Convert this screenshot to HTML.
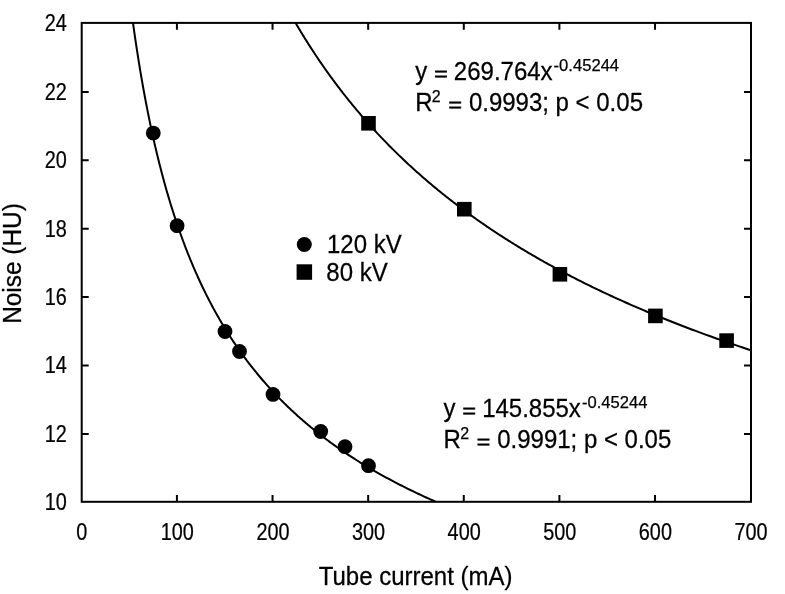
<!DOCTYPE html><html><head><meta charset="utf-8"><style>html,body{margin:0;padding:0;background:#fff;}svg{display:block;}text{font-family:"Liberation Sans",Arial,sans-serif;fill:#000;stroke:#000;stroke-width:0.25px;}</style></head><body>
<svg width="785" height="594" viewBox="0 0 785 594">
<defs><clipPath id="pc"><rect x="81.70" y="22.90" width="669.30" height="478.90"/></clipPath></defs>
<g clip-path="url(#pc)" fill="none" stroke="#000" stroke-width="2.00" stroke-linejoin="round">
<polyline points="119.95,-93.91 120.17,-91.41 120.40,-88.91 120.63,-86.42 120.86,-83.94 121.09,-81.47 121.32,-79.00 121.56,-76.54 121.79,-74.09 122.03,-71.64 122.27,-69.20 122.51,-66.76 122.75,-64.33 122.99,-61.91 123.23,-59.50 123.48,-57.09 123.73,-54.69 123.98,-52.29 124.23,-49.90 124.48,-47.52 124.73,-45.14 124.98,-42.77 125.24,-40.40 125.50,-38.05 125.76,-35.69 126.02,-33.35 126.28,-31.01 126.54,-28.68 126.81,-26.35 127.07,-24.03 127.34,-21.72 127.61,-19.41 127.88,-17.10 128.16,-14.81 128.43,-12.52 128.71,-10.24 128.98,-7.96 129.26,-5.69 129.55,-3.42 129.83,-1.16 130.11,1.09 130.40,3.34 130.69,5.58 130.98,7.82 131.27,10.05 131.56,12.27 131.85,14.49 132.15,16.70 132.45,18.90 132.75,21.10 133.05,23.30 133.35,25.49 133.66,27.67 133.97,29.84 134.28,32.02 134.59,34.18 134.90,36.34 135.21,38.49 135.53,40.64 135.85,42.78 136.17,44.92 136.49,47.05 136.81,49.17 137.14,51.29 137.47,53.41 137.80,55.51 138.13,57.62 138.46,59.71 138.80,61.80 139.14,63.89 139.47,65.97 139.82,68.04 140.16,70.11 140.51,72.18 140.85,74.23 141.20,76.29 141.55,78.33 141.91,80.38 142.26,82.41 142.62,84.44 142.98,86.47 143.34,88.49 143.71,90.50 144.08,92.51 144.44,94.51 144.81,96.51 145.19,98.50 145.56,100.49 145.94,102.47 146.32,104.45 146.70,106.42 147.09,108.39 147.47,110.35 147.86,112.31 148.25,114.26 148.65,116.20 149.04,118.14 149.44,120.08 149.84,122.01 150.24,123.93 150.65,125.85 151.06,127.77 151.47,129.68 151.88,131.58 152.29,133.48 152.71,135.38 153.13,137.27 153.55,139.15 153.98,141.03 154.40,142.90 154.83,144.77 155.27,146.64 155.70,148.50 156.14,150.35 156.58,152.20 157.02,154.04 157.47,155.88 157.91,157.72 158.36,159.55 158.82,161.37 159.27,163.19 159.73,165.01 160.19,166.82 160.66,168.62 161.12,170.42 161.59,172.22 162.06,174.01 162.54,175.80 163.02,177.58 163.50,179.36 163.98,181.13 164.47,182.90 164.96,184.66 165.45,186.42 165.94,188.17 166.44,189.92 166.94,191.66 167.45,193.40 167.95,195.14 168.46,196.87 168.98,198.59 169.49,200.31 170.01,202.03 170.53,203.74 171.06,205.45 171.59,207.15 172.12,208.85 172.65,210.54 173.19,212.23 173.73,213.91 174.27,215.59 174.82,217.27 175.37,218.94 175.93,220.61 176.48,222.27 177.04,223.93 177.61,225.58 178.17,227.23 178.74,228.87 179.32,230.51 179.89,232.15 180.47,233.78 181.06,235.41 181.64,237.03 182.24,238.65 182.83,240.26 183.43,241.87 184.03,243.47 184.63,245.08 185.24,246.67 185.85,248.27 186.47,249.85 187.09,251.44 187.71,253.02 188.34,254.59 188.97,256.16 189.60,257.73 190.24,259.29 190.88,260.85 191.53,262.41 192.18,263.96 192.83,265.50 193.49,267.05 194.15,268.59 194.81,270.12 195.48,271.65 196.15,273.18 196.83,274.70 197.51,276.21 198.19,277.73 198.88,279.24 199.58,280.74 200.27,282.25 200.97,283.74 201.68,285.24 202.39,286.73 203.10,288.21 203.82,289.69 204.54,291.17 205.27,292.65 206.00,294.12 206.73,295.58 207.47,297.04 208.21,298.50 208.96,299.96 209.71,301.41 210.47,302.85 211.23,304.30 212.00,305.73 212.77,307.17 213.54,308.60 214.32,310.03 215.10,311.45 215.89,312.87 216.69,314.29 217.48,315.70 218.29,317.11 219.09,318.51 219.91,319.91 220.72,321.31 221.54,322.70 222.37,324.09 223.20,325.48 224.04,326.86 224.88,328.24 225.73,329.62 226.58,330.99 227.43,332.36 228.30,333.72 229.16,335.08 230.03,336.44 230.91,337.79 231.79,339.14 232.68,340.49 233.57,341.83 234.47,343.17 235.37,344.50 236.28,345.83 237.19,347.16 238.11,348.49 239.04,349.81 239.97,351.12 240.90,352.44 241.84,353.75 242.79,355.06 243.74,356.36 244.70,357.66 245.66,358.96 246.63,360.25 247.61,361.54 248.59,362.82 249.57,364.11 250.57,365.39 251.56,366.66 252.57,367.94 253.58,369.20 254.59,370.47 255.62,371.73 256.64,372.99 257.68,374.25 258.72,375.50 259.77,376.75 260.82,377.99 261.88,379.24 262.94,380.48 264.01,381.71 265.09,382.94 266.17,384.17 267.26,385.40 268.36,386.62 269.46,387.84 270.57,389.06 271.69,390.27 272.81,391.48 273.94,392.69 275.08,393.89 276.22,395.09 277.37,396.29 278.53,397.48 279.69,398.67 280.86,399.86 282.04,401.04 283.22,402.22 284.41,403.40 285.61,404.57 286.82,405.74 288.03,406.91 289.25,408.08 290.48,409.24 291.71,410.40 292.95,411.56 294.20,412.71 295.46,413.86 296.72,415.00 297.99,416.15 299.27,417.29 300.56,418.43 301.85,419.56 303.15,420.69 304.46,421.82 305.78,422.95 307.10,424.07 308.43,425.19 309.77,426.30 311.12,427.42 312.48,428.53 313.84,429.64 315.21,430.74 316.59,431.84 317.98,432.94 319.38,434.04 320.78,435.13 322.20,436.22 323.62,437.31 325.05,438.39 326.49,439.47 327.93,440.55 329.39,441.63 330.85,442.70 332.32,443.77 333.81,444.84 335.30,445.90 336.79,446.96 338.30,448.02 339.82,449.08 341.34,450.13 342.88,451.18 344.42,452.23 345.98,453.27 347.54,454.31 349.11,455.35 350.69,456.39 352.28,457.42 353.88,458.45 355.49,459.48 357.11,460.50 358.73,461.52 360.37,462.54 362.02,463.56 363.67,464.58 365.34,465.59 367.02,466.60 368.70,467.60 370.40,468.61 372.11,469.61 373.82,470.60 375.55,471.60 377.29,472.59 379.03,473.58 380.79,474.57 382.56,475.55 384.34,476.54 386.13,477.52 387.93,478.49 389.74,479.47 391.56,480.44 393.39,481.41 395.23,482.37 397.08,483.34 398.95,484.30 400.82,485.26 402.71,486.22 404.61,487.17 406.51,488.12 408.43,489.07 410.36,490.01 412.31,490.96 414.26,491.90 416.23,492.84 418.20,493.77 420.19,494.71 422.19,495.64 424.21,496.57 426.23,497.49 428.27,498.42 430.32,499.34 432.38,500.26 434.45,501.17 436.53,502.09 438.63,503.00 440.74,503.91 442.86,504.81 445.00,505.72 447.15,506.62 449.31,507.52 451.48,508.42 453.66,509.31 455.86,510.20 458.07,511.09 460.30,511.98 462.54,512.87 464.79,513.75 467.05,514.63 469.33,515.51 471.62,516.38 473.92,517.26 476.24,518.13 478.57,518.99 480.92,519.86 483.28,520.73"/>
<polyline points="272.93,-19.12 273.54,-17.89 274.16,-16.66 274.78,-15.42 275.40,-14.20 276.02,-12.97 276.65,-11.74 277.27,-10.52 277.90,-9.30 278.53,-8.07 279.17,-6.86 279.80,-5.64 280.44,-4.42 281.08,-3.21 281.72,-2.00 282.36,-0.79 283.01,0.42 283.66,1.63 284.30,2.83 284.96,4.04 285.61,5.24 286.27,6.44 286.92,7.64 287.58,8.83 288.24,10.03 288.91,11.22 289.58,12.41 290.24,13.60 290.91,14.79 291.59,15.98 292.26,17.16 292.94,18.34 293.62,19.52 294.30,20.70 294.98,21.88 295.67,23.06 296.36,24.23 297.05,25.41 297.74,26.58 298.43,27.75 299.13,28.91 299.83,30.08 300.53,31.24 301.24,32.41 301.94,33.57 302.65,34.73 303.36,35.88 304.07,37.04 304.79,38.20 305.51,39.35 306.23,40.50 306.95,41.65 307.67,42.80 308.40,43.94 309.13,45.09 309.86,46.23 310.59,47.37 311.33,48.51 312.07,49.65 312.81,50.79 313.55,51.92 314.30,53.05 315.04,54.18 315.79,55.31 316.55,56.44 317.30,57.57 318.06,58.69 318.82,59.82 319.58,60.94 320.35,62.06 321.11,63.18 321.88,64.30 322.66,65.41 323.43,66.52 324.21,67.64 324.99,68.75 325.77,69.86 326.56,70.96 327.34,72.07 328.13,73.17 328.92,74.28 329.72,75.38 330.52,76.48 331.32,77.58 332.12,78.67 332.93,79.77 333.73,80.86 334.54,81.95 335.36,83.04 336.17,84.13 336.99,85.22 337.81,86.30 338.63,87.39 339.46,88.47 340.29,89.55 341.12,90.63 341.96,91.71 342.79,92.78 343.63,93.86 344.47,94.93 345.32,96.00 346.17,97.07 347.02,98.14 347.87,99.21 348.73,100.27 349.58,101.34 350.45,102.40 351.31,103.46 352.18,104.52 353.05,105.58 353.92,106.63 354.79,107.69 355.67,108.74 356.55,109.79 357.44,110.85 358.32,111.89 359.21,112.94 360.11,113.99 361.00,115.03 361.90,116.07 362.80,117.12 363.70,118.16 364.61,119.19 365.52,120.23 366.43,121.27 367.35,122.30 368.27,123.33 369.19,124.36 370.11,125.39 371.04,126.42 371.97,127.45 372.90,128.47 373.84,129.50 374.78,130.52 375.72,131.54 376.67,132.56 377.62,133.58 378.57,134.59 379.52,135.61 380.48,136.62 381.44,137.63 382.41,138.64 383.37,139.65 384.34,140.66 385.32,141.67 386.29,142.67 387.27,143.67 388.25,144.68 389.24,145.68 390.23,146.67 391.22,147.67 392.22,148.67 393.21,149.66 394.22,150.66 395.22,151.65 396.23,152.64 397.24,153.63 398.25,154.62 399.27,155.60 400.29,156.59 401.32,157.57 402.35,158.55 403.38,159.53 404.41,160.51 405.45,161.49 406.49,162.47 407.53,163.44 408.58,164.41 409.63,165.39 410.69,166.36 411.75,167.33 412.81,168.29 413.87,169.26 414.94,170.23 416.01,171.19 417.09,172.15 418.16,173.11 419.25,174.07 420.33,175.03 421.42,175.99 422.51,176.94 423.61,177.90 424.71,178.85 425.81,179.80 426.92,180.75 428.03,181.70 429.14,182.65 430.26,183.59 431.38,184.54 432.50,185.48 433.63,186.43 434.76,187.37 435.90,188.31 437.04,189.24 438.18,190.18 439.33,191.11 440.48,192.05 441.63,192.98 442.79,193.91 443.95,194.84 445.11,195.77 446.28,196.70 447.45,197.62 448.63,198.55 449.81,199.47 450.99,200.39 452.18,201.32 453.37,202.23 454.57,203.15 455.77,204.07 456.97,204.98 458.18,205.90 459.39,206.81 460.60,207.72 461.82,208.63 463.04,209.54 464.27,210.45 465.50,211.36 466.73,212.26 467.97,213.17 469.21,214.07 470.46,214.97 471.71,215.87 472.96,216.77 474.22,217.66 475.48,218.56 476.75,219.45 478.02,220.35 479.29,221.24 480.57,222.13 481.86,223.02 483.14,223.91 484.43,224.80 485.73,225.68 487.03,226.57 488.33,227.45 489.64,228.33 490.95,229.21 492.27,230.09 493.59,230.97 494.91,231.85 496.24,232.72 497.57,233.60 498.91,234.47 500.25,235.34 501.60,236.21 502.95,237.08 504.30,237.95 505.66,238.82 507.02,239.68 508.39,240.55 509.76,241.41 511.14,242.27 512.52,243.13 513.91,243.99 515.30,244.85 516.69,245.71 518.09,246.56 519.49,247.42 520.90,248.27 522.31,249.12 523.73,249.98 525.15,250.83 526.58,251.67 528.01,252.52 529.44,253.37 530.88,254.21 532.33,255.06 533.77,255.90 535.23,256.74 536.69,257.58 538.15,258.42 539.62,259.26 541.09,260.09 542.57,260.93 544.05,261.76 545.54,262.59 547.03,263.43 548.52,264.26 550.02,265.09 551.53,265.91 553.04,266.74 554.56,267.57 556.08,268.39 557.60,269.22 559.13,270.04 560.67,270.86 562.21,271.68 563.75,272.50 565.30,273.31 566.86,274.13 568.42,274.95 569.98,275.76 571.55,276.57 573.13,277.38 574.71,278.20 576.29,279.00 577.88,279.81 579.48,280.62 581.08,281.43 582.69,282.23 584.30,283.03 585.91,283.84 587.53,284.64 589.16,285.44 590.79,286.24 592.43,287.03 594.07,287.83 595.72,288.63 597.37,289.42 599.03,290.21 600.69,291.01 602.36,291.80 604.04,292.59 605.72,293.38 607.40,294.16 609.09,294.95 610.79,295.74 612.49,296.52 614.20,297.30 615.91,298.09 617.63,298.87 619.35,299.65 621.08,300.43 622.81,301.20 624.55,301.98 626.30,302.75 628.05,303.53 629.81,304.30 631.57,305.07 633.34,305.84 635.11,306.61 636.89,307.38 638.67,308.15 640.47,308.92 642.26,309.68 644.06,310.45 645.87,311.21 647.69,311.97 649.51,312.73 651.33,313.49 653.16,314.25 655.00,315.01 656.85,315.77 658.69,316.52 660.55,317.28 662.41,318.03 664.28,318.78 666.15,319.53 668.03,320.28 669.92,321.03 671.81,321.78 673.71,322.53 675.61,323.27 677.52,324.02 679.43,324.76 681.36,325.51 683.29,326.25 685.22,326.99 687.16,327.73 689.11,328.47 691.06,329.20 693.02,329.94 694.99,330.68 696.96,331.41 698.94,332.14 700.92,332.87 702.91,333.61 704.91,334.34 706.91,335.07 708.92,335.79 710.94,336.52 712.96,337.25 714.99,337.97 717.03,338.69 719.07,339.42 721.12,340.14 723.18,340.86 725.24,341.58 727.31,342.30 729.39,343.02 731.47,343.73 733.56,344.45 735.65,345.16 737.76,345.88 739.87,346.59 741.98,347.30 744.11,348.01 746.24,348.72 748.37,349.43 750.52,350.14 752.67,350.84 754.82,351.55 756.99,352.25 759.16,352.96 761.34,353.66 763.52,354.36 765.72,355.06 767.92,355.76 770.12,356.46"/>
</g>
<rect x="81.70" y="22.90" width="669.30" height="478.90" fill="none" stroke="#000" stroke-width="2.00"/>
<path d="M176.92,501.80v-6.8M176.92,22.90v6.8M272.54,501.80v-6.8M272.54,22.90v6.8M368.16,501.80v-6.8M368.16,22.90v6.8M463.78,501.80v-6.8M463.78,22.90v6.8M559.40,501.80v-6.8M559.40,22.90v6.8M655.02,501.80v-6.8M655.02,22.90v6.8M81.70,433.90h7M751.00,433.90h-7M81.70,365.50h7M751.00,365.50h-7M81.70,297.10h7M751.00,297.10h-7M81.70,228.70h7M751.00,228.70h-7M81.70,160.30h7M751.00,160.30h-7M81.70,91.90h7M751.00,91.90h-7" stroke="#000" stroke-width="2.00" fill="none"/>
<circle cx="153.3" cy="133.1" r="7.4"/>
<circle cx="177.1" cy="225.7" r="7.4"/>
<circle cx="225" cy="331.5" r="7.4"/>
<circle cx="239.5" cy="351.5" r="7.4"/>
<circle cx="273" cy="394.4" r="7.4"/>
<circle cx="320.7" cy="431.5" r="7.4"/>
<circle cx="345" cy="446.7" r="7.4"/>
<circle cx="368.5" cy="465.7" r="7.4"/>
<rect x="361.20" y="116.00" width="14.6" height="14.6"/>
<rect x="457.00" y="201.90" width="14.6" height="14.6"/>
<rect x="552.60" y="267.00" width="14.6" height="14.6"/>
<rect x="648.10" y="308.60" width="14.6" height="14.6"/>
<rect x="719.30" y="333.30" width="14.6" height="14.6"/>
<text transform="translate(81.70,539.8) scale(0.81,1)" font-size="24.5" text-anchor="middle">0</text>
<text transform="translate(177.31,539.8) scale(0.81,1)" font-size="24.5" text-anchor="middle">100</text>
<text transform="translate(272.93,539.8) scale(0.81,1)" font-size="24.5" text-anchor="middle">200</text>
<text transform="translate(368.54,539.8) scale(0.81,1)" font-size="24.5" text-anchor="middle">300</text>
<text transform="translate(464.16,539.8) scale(0.81,1)" font-size="24.5" text-anchor="middle">400</text>
<text transform="translate(559.77,539.8) scale(0.81,1)" font-size="24.5" text-anchor="middle">500</text>
<text transform="translate(655.39,539.8) scale(0.81,1)" font-size="24.5" text-anchor="middle">600</text>
<text transform="translate(751.00,539.8) scale(0.81,1)" font-size="24.5" text-anchor="middle">700</text>
<text transform="translate(66.8,510.30) scale(0.81,1)" font-size="24.5" text-anchor="end">10</text>
<text transform="translate(66.8,441.89) scale(0.81,1)" font-size="24.5" text-anchor="end">12</text>
<text transform="translate(66.8,373.47) scale(0.81,1)" font-size="24.5" text-anchor="end">14</text>
<text transform="translate(66.8,305.06) scale(0.81,1)" font-size="24.5" text-anchor="end">16</text>
<text transform="translate(66.8,236.64) scale(0.81,1)" font-size="24.5" text-anchor="end">18</text>
<text transform="translate(66.8,168.23) scale(0.81,1)" font-size="24.5" text-anchor="end">20</text>
<text transform="translate(66.8,99.81) scale(0.81,1)" font-size="24.5" text-anchor="end">22</text>
<text transform="translate(66.8,31.40) scale(0.81,1)" font-size="24.5" text-anchor="end">24</text>
<text transform="translate(415.60,584.70) scale(1,1.05)" font-size="24" text-anchor="middle">Tube current (mA)</text>
<text transform="translate(21.4,263.5) rotate(-90) scale(1,1.035)" font-size="24.4" text-anchor="middle">Noise (HU)</text>
<circle cx="304.3" cy="244.5" r="7.5"/>
<rect x="296.6" y="264.3" width="15.5" height="15.5"/>
<text transform="translate(327.00,252.60) scale(1,1.06)" font-size="24">120 kV</text>
<text transform="translate(326.30,280.60) scale(1,1.06)" font-size="24">80 kV</text>
<text transform="translate(415.30,79.90) scale(1,1.06)" font-size="24">y</text><text transform="translate(434.27,79.90) scale(0.96,0.73)" font-size="24" style="stroke-width:0.85px">=</text><text transform="translate(453.86,79.90) scale(1,1.06)" font-size="24">269.764x</text><text x="553.59" y="70.90" font-size="16.6">-0.45244</text><text transform="translate(415.30,111.20) scale(1,1.06)" font-size="24">R</text><text x="431.83" y="101.80" font-size="16">2</text><text transform="translate(448.51,111.20) scale(0.96,0.73)" font-size="24" style="stroke-width:0.85px">=</text><text transform="translate(468.90,111.20) scale(1,1.06)" font-size="24">0.9993; p &lt; 0.05</text>
<text transform="translate(443.60,416.90) scale(1,1.06)" font-size="24">y</text><text transform="translate(462.57,416.90) scale(0.96,0.73)" font-size="24" style="stroke-width:0.85px">=</text><text transform="translate(482.16,416.90) scale(1,1.06)" font-size="24">145.855x</text><text x="581.89" y="407.90" font-size="16.6">-0.45244</text><text transform="translate(443.60,448.10) scale(1,1.06)" font-size="24">R</text><text x="460.13" y="438.70" font-size="16">2</text><text transform="translate(476.81,448.10) scale(0.96,0.73)" font-size="24" style="stroke-width:0.85px">=</text><text transform="translate(497.20,448.10) scale(1,1.06)" font-size="24">0.9991; p &lt; 0.05</text>
</svg></body></html>
